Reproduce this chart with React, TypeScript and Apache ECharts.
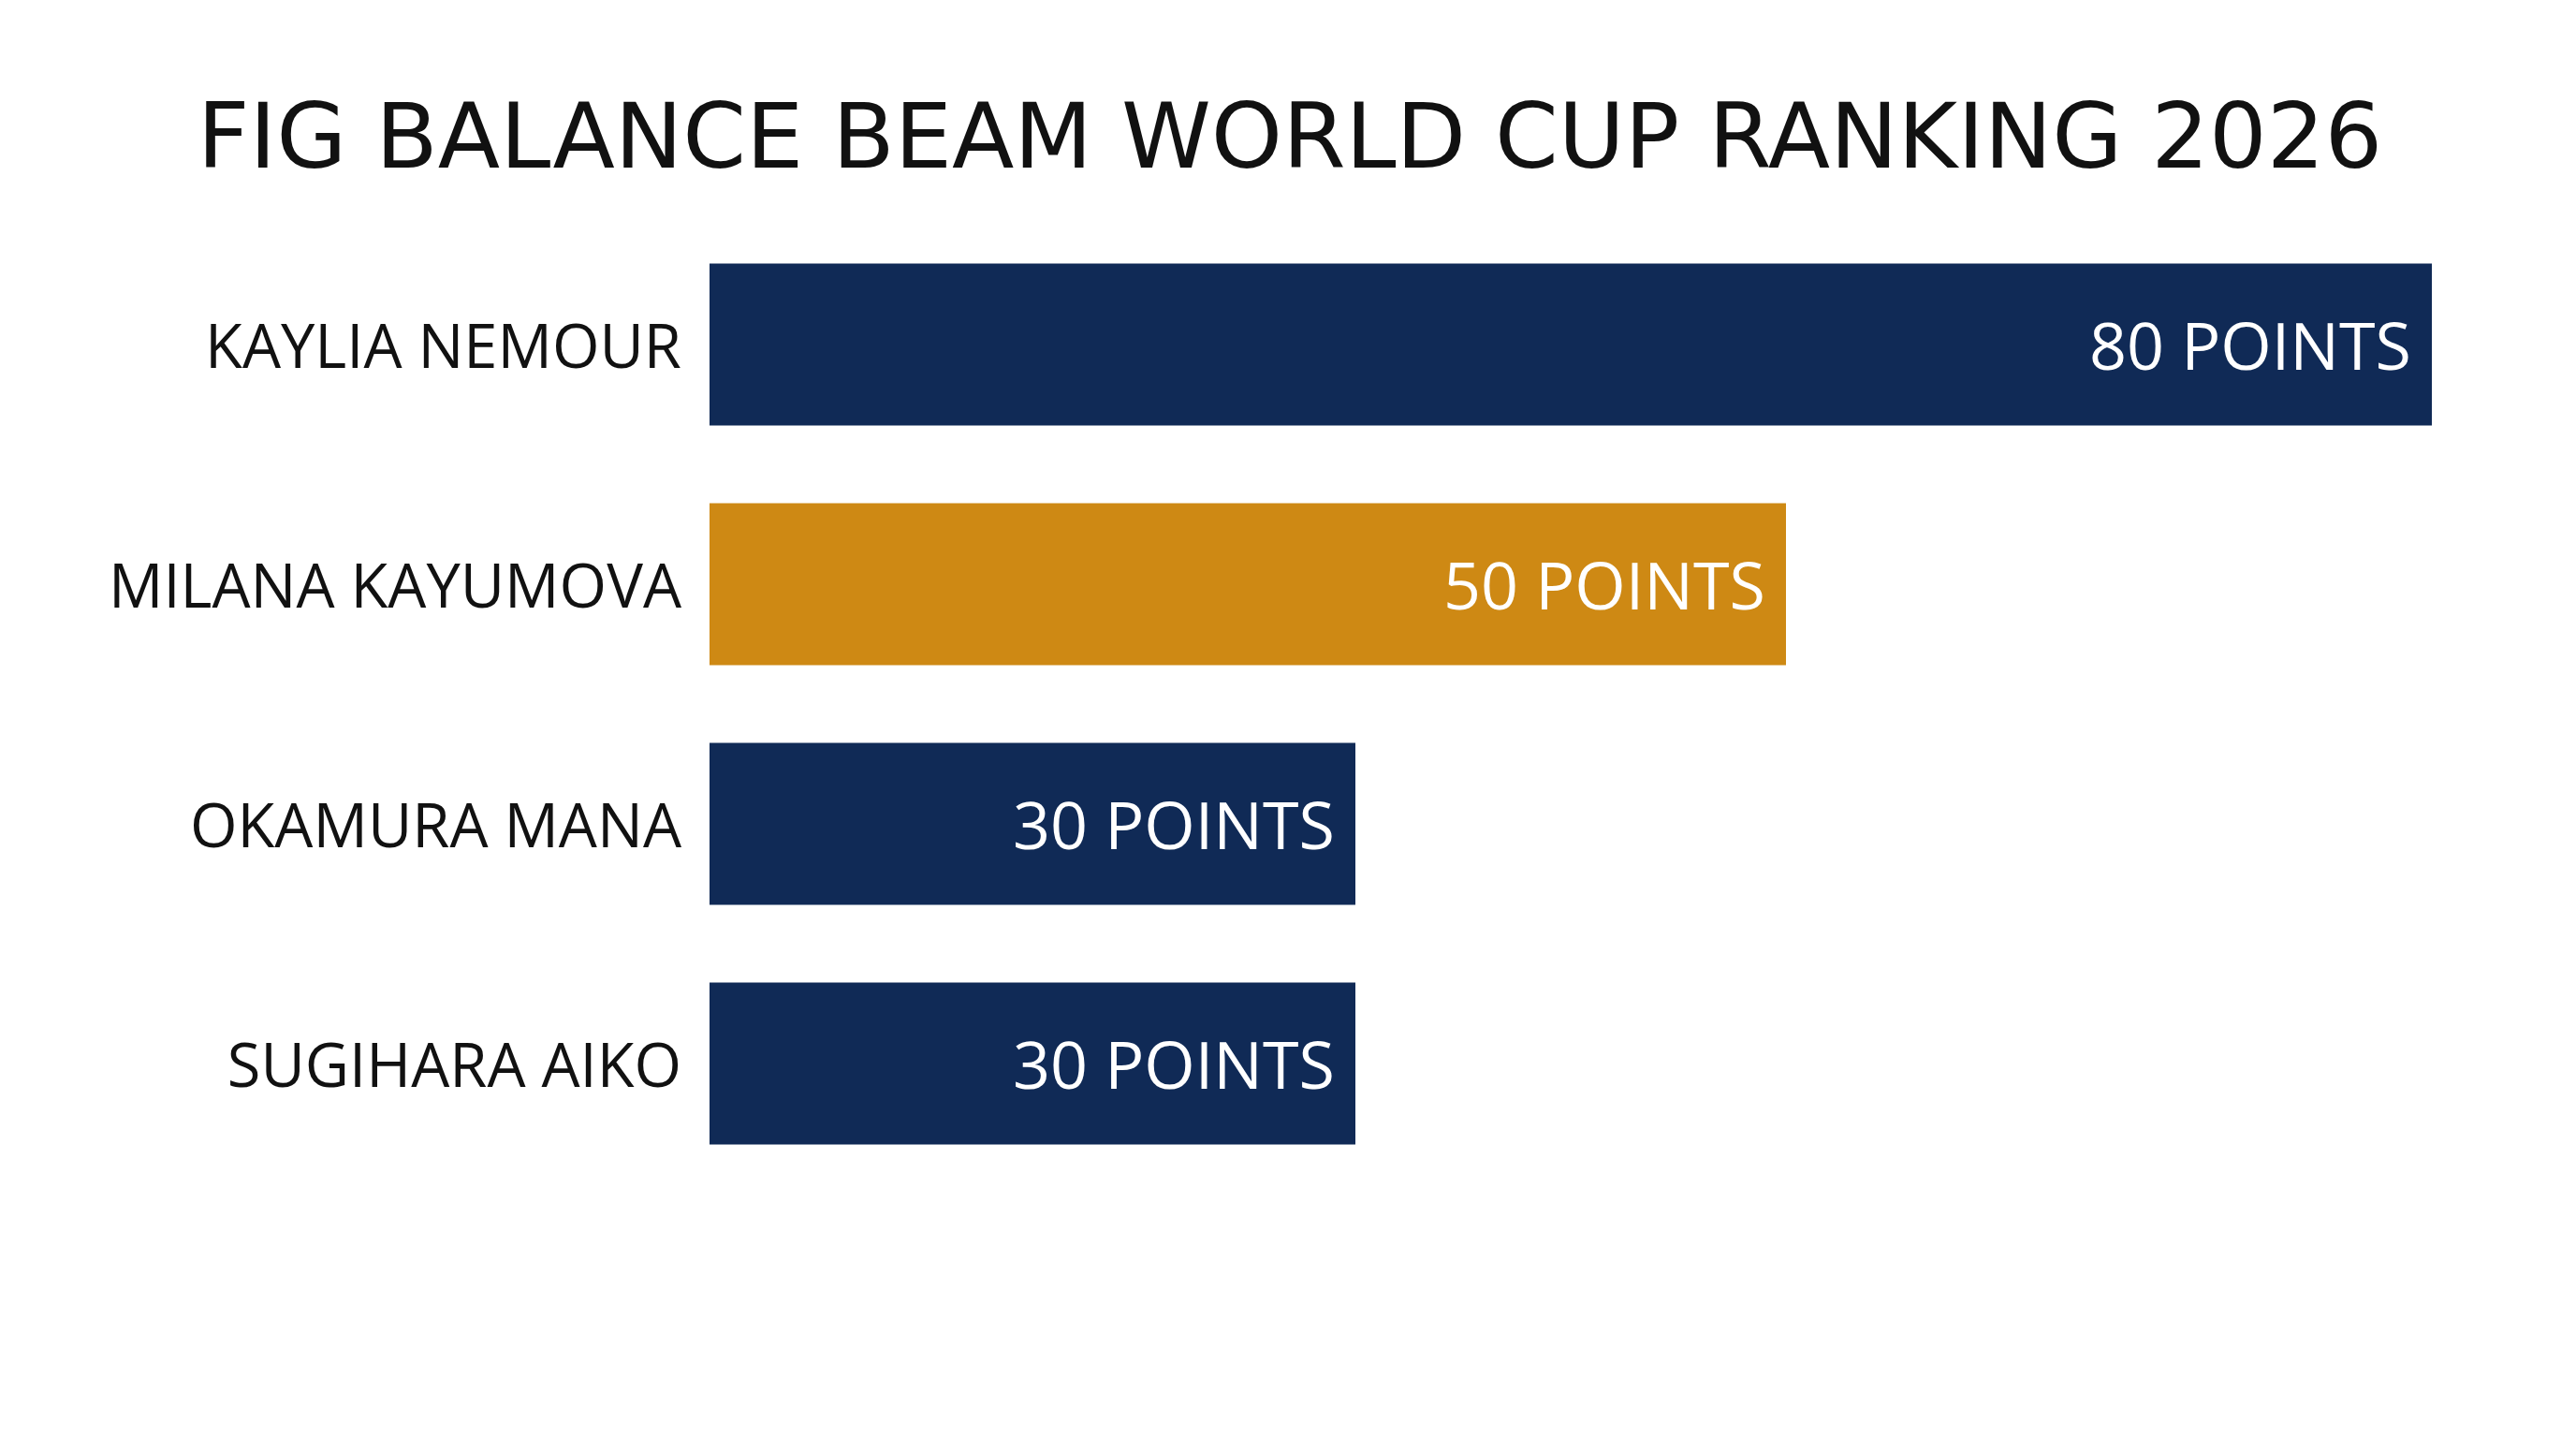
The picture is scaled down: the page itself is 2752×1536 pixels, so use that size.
import React, { useEffect, useRef } from "react";
import * as echarts from "echarts";

const titleText = "FIG BALANCE BEAM WORLD CUP RANKING 2026";
const athletes = ["KAYLIA NEMOUR", "MILANA KAYUMOVA", "OKAMURA MANA", "SUGIHARA AIKO"];
const points = [80, 50, 30, 30];
const barColors = ["#102A56", "#CE8914", "#102A56", "#102A56"];

export default function App() {
  const ref = useRef<HTMLDivElement>(null);
  useEffect(() => {
    if (!ref.current) return;
    const chart = echarts.init(ref.current, null, { renderer: "svg" });
    chart.setOption({
      animation: false,
      backgroundColor: "#FFFFFF",
      graphic: [
        {
          type: "text",
          x: 1378,
          y: 145,
          style: {
            text: titleText,
            fontFamily: "DejaVu Sans",
            fontSize: 97,
            fontWeight: 500,
            fill: "#111111",
            align: "center",
            verticalAlign: "middle",
          },
        },
      ],
      grid: { left: 758, right: 154, top: 240, bottom: 272, containLabel: false },
      xAxis: {
        type: "value",
        min: 0,
        max: 80,
        show: false,
      },
      yAxis: {
        type: "category",
        data: athletes,
        inverse: true,
        axisLine: { show: false },
        axisTick: { show: false },
        splitLine: { show: false },
        axisLabel: {
          margin: 30,
          fontFamily: "Open Sans",
          fontSize: 65,
          color: "#111111",
        },
      },
      series: [
        {
          type: "bar",
          data: points.map((v, i) => ({ value: v, itemStyle: { color: barColors[i] } })),
          barWidth: 173,
          label: {
            show: true,
            position: "insideRight",
            distance: 22,
            formatter: (p: any) => `${p.value} POINTS`,
            fontFamily: "Open Sans",
            fontSize: 70,
            color: "#FFFFFF",
          },
        },
      ],
    });
    return () => chart.dispose();
  }, []);
  return (
    <div
      ref={ref}
      style={{ position: "fixed", left: 0, top: 0, width: 2752, height: 1536 }}
    />
  );
}
